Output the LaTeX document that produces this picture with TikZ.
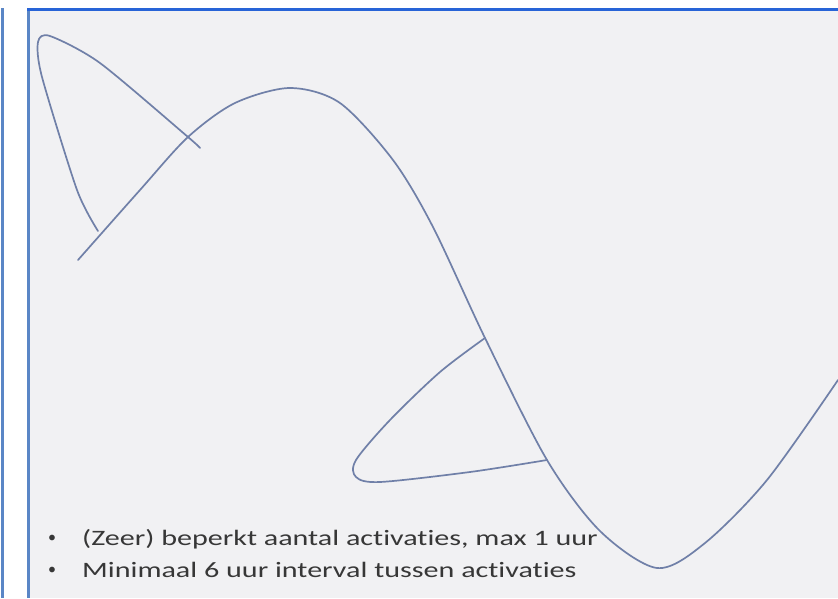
\documentclass[tikz,border=0pt]{standalone}
\usepackage{fontspec}
\setmainfont{Carlito}[Ligatures=NoCommon]
\definecolor{panelfill}{RGB}{241,241,243}
\definecolor{topblue}{RGB}{40,100,215}
\definecolor{sideblue}{RGB}{90,134,198}
\definecolor{curvecol}{RGB}{112,128,168}
\definecolor{txtcol}{RGB}{55,55,55}
\newcommand{\widetext}[1]{\scalebox{1.368}[1]{#1}}
\tikzset{
  curve/.style={draw=curvecol, line width=1.7pt, line cap=round, line join=round},
  bullettext/.style={anchor=base west, inner sep=0pt, text=txtcol, font=\fontsize{22}{26}\selectfont},
  bulletmark/.style={anchor=base west, inner sep=0pt, text=txtcol, font=\fontsize{16}{20}\selectfont},
}
\begin{document}
\begin{tikzpicture}[x=1pt,y=-1pt]
\useasboundingbox (0,0) rectangle (838,598);
% panels
\fill[white] (0,0) rectangle (838,598);
\fill[sideblue] (1,8) rectangle (4,598);
\fill[panelfill] (28,9) rectangle (838,598);
\fill[sideblue] (26.5,8) rectangle (30,598);
\fill[topblue] (26.5,8) rectangle (838,11);
% main stroke
\draw[curve] plot[smooth,tension=0.5] coordinates {(78,260) (140,190) (188,137) (235,103) (290,88) (340,103) (393,160) (433,227) (485,338) (547,460) (600,531) (657,568) (705,543) (767,480) (838,380)};
% first loop
\draw[curve] plot[smooth,tension=0.45] coordinates {(200,148) (188,137) (100,63) (50,36) (38,42) (42,77) (77,190) (98,231)};
% second loop
\draw[curve] plot[smooth,tension=0.5] coordinates {(485,338) (440,372) (390,420) (356,460) (356,477) (380,482) (470,472) (547,460)};
% text
\node[bulletmark] (b1) at (48,542) {•};
\node[bullettext] (t1) at (82,545) {\widetext{(Zeer) beperkt aantal activaties, max 1 uur}};
\node[bulletmark] (b2) at (48,574) {•};
\node[bullettext] (t2) at (82,577) {\widetext{Minimaal 6 uur interval tussen activaties}};
\end{tikzpicture}
\end{document}
